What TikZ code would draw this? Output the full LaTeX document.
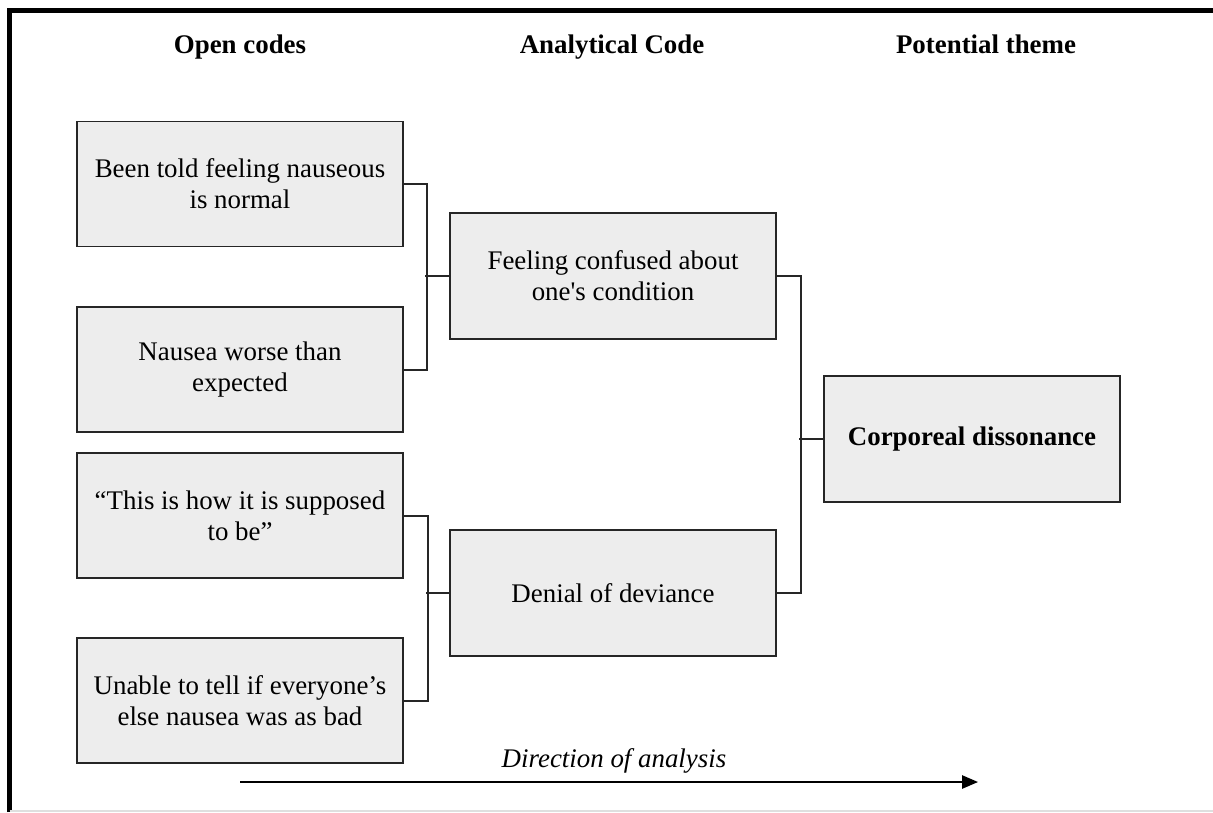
\documentclass[tikz,border=0pt]{standalone}
\usepackage{fontspec}
\setmainfont{Liberation Serif}
\usepackage{tikz}
\usetikzlibrary{arrows.meta, positioning, calc}

\begin{document}
\begin{tikzpicture}
      \tikzset{
        codebox/.style={rectangle, draw=black!85, line width=1.1pt, fill=gray!14,
                        minimum width=6.52cm, minimum height=2.5cm, align=center,
                        inner sep=0pt, font=\fontsize{15.3}{17.6}\selectfont},
        kopf/.style={anchor=base, font=\fontsize{15.3}{17.6}\selectfont\bfseries},
        linie/.style={draw=black!85, line width=0.9pt},
        pfeil/.style={-{Triangle[length=9pt,width=7.5pt]}, line width=0.9pt}
      }

      \useasboundingbox (0,0) rectangle (24.26,-16.24);
      % frame
      \draw[line width=3pt] (0.19,-16.24) -- (0.19,-0.21) -- (24.26,-0.21);
      \draw[gray!25, line width=0.6pt] (0.19,-16.22) -- (24.26,-16.22);

      % column heads
      \node[kopf] (head1) at (4.8,-1.06) {Open codes};
      \node[kopf] (head2) at (12.24,-1.06) {Analytical Code};
      \node[kopf] (head3) at (19.72,-1.06) {Potential theme};

      % open codes
      \node[codebox] (open1) at (4.8,-3.68) {Been told feeling nauseous\\is normal};
      \node[codebox, below=1.18cm of open1] (open2) {Nausea worse than\\expected};
      \node[codebox, below=0.38cm of open2] (open3) {“This is how it is supposed\\to be”};
      \node[codebox, below=1.16cm of open3] (open4) {Unable to tell if everyone’s\\else nausea was as bad};

      % analytical codes
      \node[codebox, minimum height=2.52cm] (ana1) at (12.26,-5.52) {Feeling confused about\\one\textquotesingle s condition};
      \node[codebox, minimum height=2.52cm] (ana2) at (12.26,-11.86) {Denial of deviance};

      % theme
      \node[codebox, minimum width=5.92cm, minimum height=2.52cm] (theme) at (19.44,-8.78)
        {\bfseries Corporeal dissonance};

      % brackets
      \draw[linie] (open1.east) -- ++(0.46,0) |- (open2.east);
      \draw[linie] (ana1.west) -- ++(-0.48,0);
      \draw[linie] (open3.east) -- ++(0.48,0) |- (open4.east);
      \draw[linie] (ana2.west) -- ++(-0.46,0);
      \draw[linie] (ana1.east) -- ++(0.48,0) |- (ana2.east);
      \draw[linie] (theme.west) -- ++(-0.48,0);

      % direction
      \coordinate (dir0) at (4.8,-15.64);
      \coordinate (dir1) at (19.56,-15.64);
      \draw[pfeil] (dir0) -- (dir1);
      \node[font=\fontsize{15.3}{17.6}\selectfont\itshape, above=0.05cm] (dirtext) at ($(dir0)!0.5!(dir1)+(0.1,0)$) {Direction of analysis};

    \end{tikzpicture}
\end{document}
